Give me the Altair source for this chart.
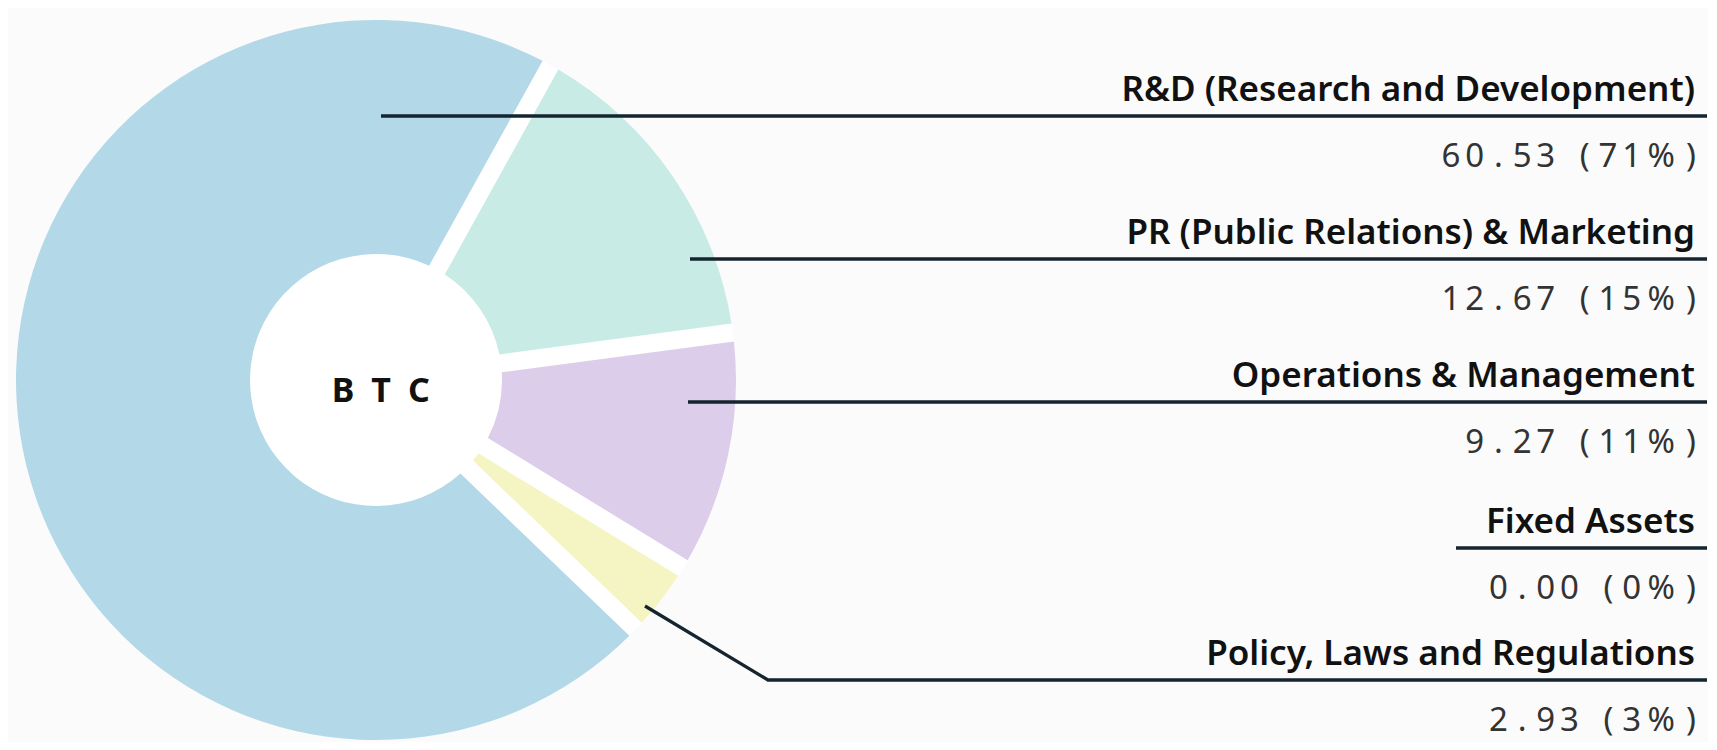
import math
import altair as alt
import pandas as pd

# ---------------- data ----------------
categories = [
    "R&D (Research and Development)",
    "PR (Public Relations) & Marketing",
    "Operations & Management",
    "Fixed Assets",
    "Policy, Laws and Regulations",
]
values = [60.53, 12.67, 9.27, 0.00, 2.93]
slice_order = [4, 0, 1, 2, 3]          # clockwise drawing order of the slices
center_title = "BTC"

# ---------------- style / layout ----------------
colors = ["#b3d8e8", "#c8ebe6", "#dccdea", "#e6e6e6", "#f5f5c4"]
PAGE = 8                     # body margin
W, H = 1700, 734
CX, CY = 376, 380            # pie centre (page px)
R_OUT, R_IN, GAP = 360, 126, 18
PAD_ANGLE = GAP / math.sqrt(R_OUT ** 2 + R_IN ** 2)
START_DEG = 29
ROWS_Y = [116, 259, 402, 548, 680]   # leader-line rows (page px)
LINE_RIGHT = 1707
TITLE_RIGHT, TITLE_DY = 1695, -15
VALUE_RIGHT_CENTER, VALUE_DY = 1691, 51
LINE_COLOR = "#15252f"
# per-character cell widths for the spaced value text
CHAR_W = {" ": 11, "(": 18, ")": 19, "%": 31, ".": 19}
DIGIT_W, LETTER_SP = 19, 4.7

total = sum(values)
pct = [round(v / total * 100) for v in values]

pie_df = pd.DataFrame({"category": categories, "value": values, "draw": slice_order})

# leader polylines (page px)
leader_pts = [
    [(381, ROWS_Y[0]), (LINE_RIGHT, ROWS_Y[0])],
    [(690, ROWS_Y[1]), (LINE_RIGHT, ROWS_Y[1])],
    [(688, ROWS_Y[2]), (LINE_RIGHT, ROWS_Y[2])],
    [(1456, ROWS_Y[3]), (LINE_RIGHT, ROWS_Y[3])],
    [(645, 606), (768, ROWS_Y[4]), (LINE_RIGHT, ROWS_Y[4])],
]
line_rows = []
for k, pts in enumerate(leader_pts):
    for j, (px, py) in enumerate(pts):
        line_rows.append({"key": categories[k], "seq": j, "px": px, "py": py})
line_df = pd.DataFrame(line_rows)

title_df = pd.DataFrame({
    "label": categories,
    "px": [TITLE_RIGHT] * len(categories),
    "py": [r + TITLE_DY for r in ROWS_Y],
})

# value strings, laid out character by character (spaced, tabular look)
char_rows = []
for k, (v, p) in enumerate(zip(values, pct)):
    s = f"{v:.2f} ({p}%)"
    widths = [CHAR_W.get(c, DIGIT_W) for c in s]
    centers = [0.0] * len(s)
    centers[-1] = VALUE_RIGHT_CENTER
    for i in range(len(s) - 2, -1, -1):
        centers[i] = centers[i + 1] - ((widths[i] + widths[i + 1]) / 2 + LETTER_SP)
    for c, cx in zip(s, centers):
        if c != " ":
            char_rows.append({"ch": c, "px": cx, "py": ROWS_Y[k] + VALUE_DY})
value_df = pd.DataFrame(char_rows)

xs = alt.Scale(domain=[PAGE, PAGE + W], range=[0, W], nice=False, zero=False)
ys = alt.Scale(domain=[PAGE, PAGE + H], range=[0, H], nice=False, zero=False)

s0 = math.radians(START_DEG)
pie = alt.Chart(pie_df).mark_arc(
    outerRadius=R_OUT, innerRadius=R_IN, padAngle=PAD_ANGLE,
).encode(
    theta=alt.Theta("value:Q", stack=True, scale=alt.Scale(range=[s0, s0 + 2 * math.pi])),
    color=alt.Color("category:N", scale=alt.Scale(domain=categories, range=colors), legend=None),
    order=alt.Order("draw:Q"),
    x=alt.value(CX - PAGE),
    y=alt.value(CY - PAGE),
)

# white disc beneath the ring: gaps and hole show white
disc = alt.Chart(pd.DataFrame({"t": [center_title]})).mark_arc(
    theta=0, theta2=2 * math.pi, outerRadius=R_OUT, innerRadius=0,
).encode(color=alt.value("white"), x=alt.value(CX - PAGE), y=alt.value(CY - PAGE))

center_df = pd.DataFrame({
    "ch": list(center_title),
    "px": [CX + 5 + (i - (len(center_title) - 1) / 2) * 38 for i in range(len(center_title))],
    "py": [402] * len(center_title),
})
center = alt.Chart(center_df).mark_text(
    font="Noto Sans", fontWeight="bold", fontSize=34,
    align="center", baseline="alphabetic", color="#111111",
).encode(x=alt.X("px:Q", scale=xs, axis=None), y=alt.Y("py:Q", scale=ys, axis=None), text="ch:N")

lines = alt.Chart(line_df).mark_line(
    color=LINE_COLOR, strokeWidth=3.3, strokeCap="butt", strokeJoin="miter"
).encode(
    x=alt.X("px:Q", scale=xs, axis=None),
    y=alt.Y("py:Q", scale=ys, axis=None),
    detail="key:N",
    order="seq:Q",
)

titles = alt.Chart(title_df).mark_text(
    font="Noto Sans", fontWeight=600, fontSize=35, align="right",
    baseline="alphabetic", color="#111111",
).encode(x=alt.X("px:Q", scale=xs, axis=None), y=alt.Y("py:Q", scale=ys, axis=None), text="label:N")

vals = alt.Chart(value_df).mark_text(
    font="Noto Sans", fontSize=33, align="center",
    baseline="alphabetic", color="#333333",
).encode(x=alt.X("px:Q", scale=xs, axis=None), y=alt.Y("py:Q", scale=ys, axis=None), text="ch:N")

chart = alt.layer(disc, pie, lines, center, titles, vals).properties(
    width=W, height=H, background="#fbfbfb", padding=0,
    autosize=alt.AutoSizeParams(type="none"),
).configure_view(stroke=None)

chart.save("out.html", embed_options={"renderer": "svg", "actions": False})
